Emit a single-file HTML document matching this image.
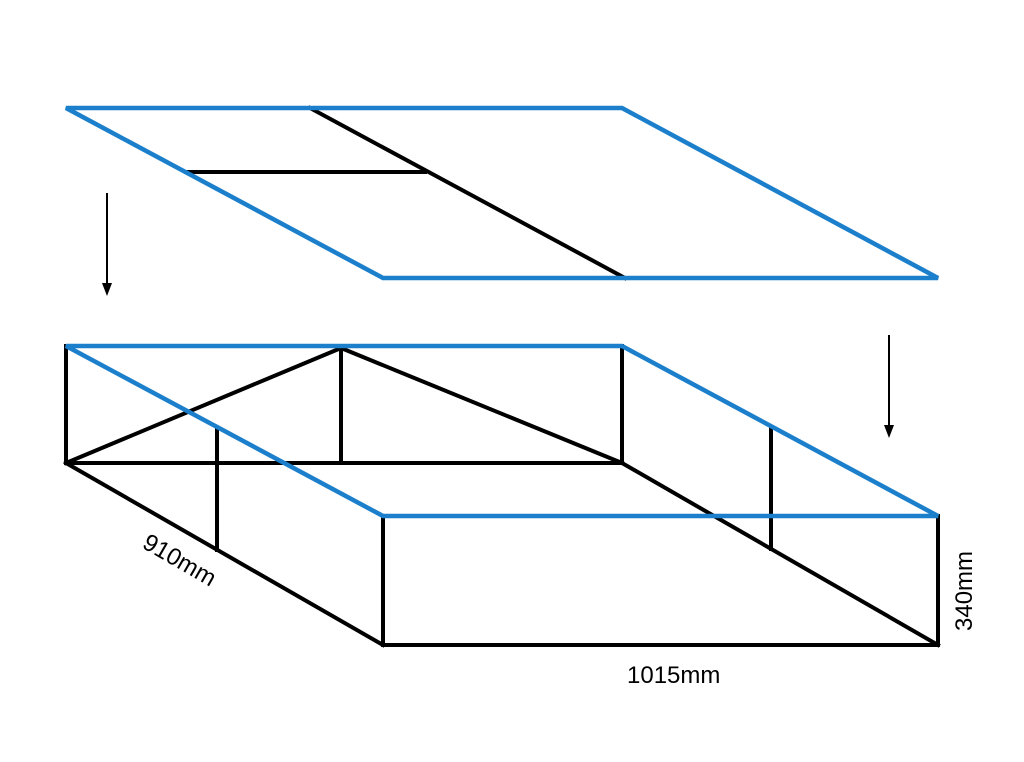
<!DOCTYPE html>
<html><head><meta charset="utf-8"><style>
html,body{margin:0;padding:0;background:#fff;}
svg{display:block;}
</style></head><body>
<svg width="1024" height="762" viewBox="0 0 1024 762" xmlns="http://www.w3.org/2000/svg">
<rect width="1024" height="762" fill="#fff"/>
<g stroke="#000" stroke-width="4" fill="none" stroke-linecap="square">
<line x1="310" y1="108" x2="625" y2="278"/>
<line x1="186" y1="172" x2="425" y2="172"/>
<line x1="66" y1="346" x2="66" y2="463"/>
<line x1="622" y1="346" x2="622" y2="463"/>
<line x1="383" y1="516" x2="383" y2="645"/>
<line x1="938" y1="516" x2="938" y2="645"/>
<line x1="383" y1="645" x2="938" y2="645"/>
<line x1="66" y1="463" x2="383" y2="645"/>
<line x1="622" y1="463" x2="938" y2="645"/>
<line x1="66" y1="463" x2="622" y2="463"/>
<line x1="66" y1="463" x2="341" y2="348"/>
<line x1="341" y1="348" x2="622" y2="463"/>
<line x1="341" y1="348" x2="341" y2="463"/>
<line x1="217" y1="428" x2="217" y2="550"/>
<line x1="771" y1="428" x2="771" y2="549"/>
</g>
<g stroke="#1b7fcc" stroke-width="4.5" fill="none" stroke-linejoin="miter">
<polygon points="66,108 622,108 938,278 383,278"/>
<polygon points="66,346 622,346 938,516 383,516"/>
</g>
<g stroke="#000" stroke-width="2">
<line x1="107" y1="193" x2="107" y2="286"/>
<line x1="889" y1="335" x2="889" y2="428"/>
</g>
<polygon points="102,283 112,283 107,296" fill="#000"/>
<polygon points="884,425 894,425 889,438" fill="#000"/>
<g font-family="Liberation Sans, sans-serif" font-size="24" fill="#000">
<text x="141" y="547" transform="rotate(30 141 547)">910mm</text>
<text x="972" y="631" transform="rotate(-90 972 631)">340mm</text>
<text x="627" y="683">1015mm</text>
</g>
</svg>
</body></html>
